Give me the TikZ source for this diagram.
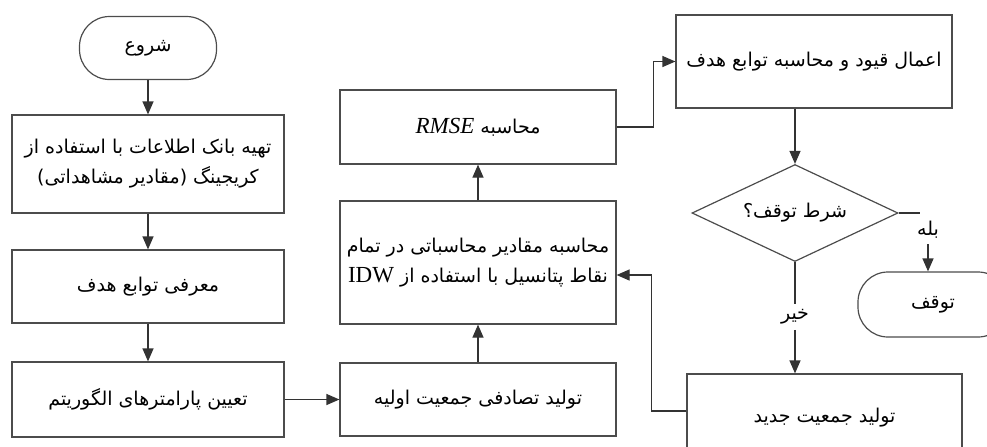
\documentclass[tikz,border=0pt]{standalone}
\usepackage{fontspec}
\setmainfont{Liberation Serif}
\newfontfamily\farsi[Script=Arabic]{DejaVu Sans}
\TeXXeTstate=1
\usetikzlibrary{shapes.geometric, arrows.meta}

\newcommand{\latin}[1]{{\beginL\rmfamily\fontsize{11.5}{15}\selectfont #1\endL}}

\tikzset{
    block/.style={draw=black!70, line width=0.6pt, align=center,
        font=\farsi\fontsize{9.5}{15}\selectfont},
    term/.style={block, rounded corners=15pt},
    tag/.style={inner sep=2.5pt, font=\farsi\fontsize{9.5}{15}\selectfont},
    line/.style={draw=black!80, line width=0.6pt},
    link/.style={line, -{Triangle[length=6.5pt, width=5.5pt]}}
}

\begin{document}
\begin{tikzpicture}[x=0.5pt, y=-0.5pt]
    \useasboundingbox (0,0) rectangle (987,446);

    % first column
    \node[term, minimum width=68.5pt, minimum height=31.5pt] (start) at (148,48) {\beginR شروع\endR};
    \node[block, minimum width=136pt, minimum height=49pt] (bank) at (148,164)
        {\beginR تهیه بانک اطلاعات با استفاده از\endR\\\beginR کریجینگ (مقادیر مشاهداتی)\endR};
    \node[block, minimum width=136pt, minimum height=36.5pt] (obj) at (148,286.5) {\beginR معرفی توابع هدف\endR};
    \node[block, minimum width=136pt, minimum height=37.5pt] (param) at (148,399.5) {\beginR تعیین پارامترهای الگوریتم\endR};

    % second column
    \node[block, minimum width=138pt, minimum height=36.5pt] (init) at (478,399.5) {\beginR تولید تصادفی جمعیت اولیه\endR};
    \node[block, minimum width=138pt, minimum height=61.5pt] (idw) at (478,262.5)
        {\beginR محاسبه مقادیر محاسباتی در تمام\endR\\\beginR نقاط پتانسیل با استفاده از \latin{IDW}\endR};
    \node[block, minimum width=138pt, minimum height=37pt] (rmse) at (478,127)
        {\beginR محاسبه \latin{\itshape RMSE}\endR};

    % third column
    \node[block, minimum width=138pt, minimum height=46.5pt] (cons) at (814,61.5) {\beginR اعمال قیود و محاسبه توابع هدف\endR};
    \node[block, diamond, aspect=2.1, inner sep=0pt, minimum width=103pt, minimum height=48.5pt] (cond) at (795,213) {\beginR شرط توقف؟\endR};
    \node[term, minimum width=75pt, minimum height=32.5pt] (halt) at (933,304.5) {\beginR توقف\endR};
    \node[block, minimum width=137.5pt, minimum height=44pt] (newpop) at (824.5,418) {\beginR تولید جمعیت جدید\endR};
    \node[tag] (yes) at (928,230) {\beginR بله\endR};
    \node[tag] (no) at (795,317) {\beginR خیر\endR};

    % connectors
    \draw[link] (start) -- (bank);
    \draw[link] (bank) -- (obj);
    \draw[link] (obj) -- (param);
    \draw[link] (param) -- (init);
    \draw[link] (init) -- (idw);
    \draw[link] (idw) -- (rmse);
    \draw[link] (rmse.east) -- ++(37,0) |- (cons.west);
    \draw[link] (cond.north |- cons.south) -- (cond.north);
    \draw[line] (cond.east) -- ++(21,0);
    \draw[link] (yes.south) -- (yes.south |- halt.north);
    \draw[line] (cond.south) -- (no.north);
    \draw[link] (no.south) -- (no.south |- newpop.north);
    \draw[link] ([yshift=3.5pt]newpop.west) -- ++(-35,0) |- ([yshift=-6.25pt]idw.east);
\end{tikzpicture}
\end{document}
